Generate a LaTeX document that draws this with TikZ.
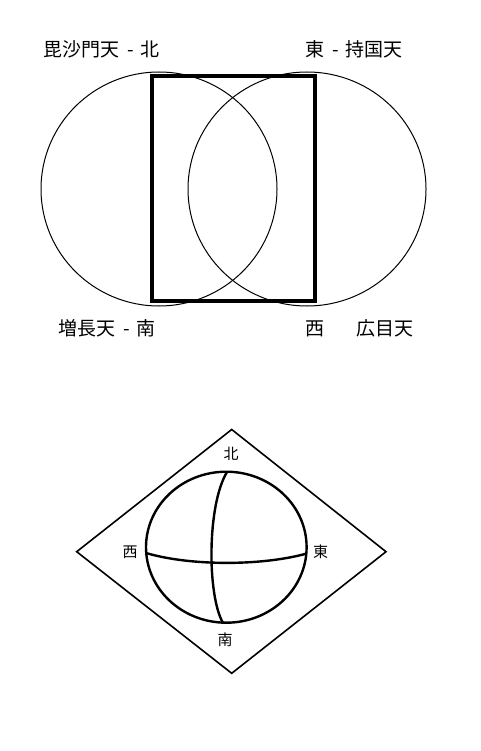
\documentclass[tikz,border=0pt]{standalone}
\usepackage{fontspec}
\newfontfamily\jp{Noto Sans CJK JP}
\usetikzlibrary{positioning,calc}
\newcommand{\sep}{\hspace*{8pt}-\hspace*{7pt}}

\begin{document}
\begin{tikzpicture}[x=1pt,y=-1pt,
        bigname/.style={anchor=west,inner sep=0pt,font=\jp\fontsize{19}{19}\selectfont},
        dirname/.style={inner sep=0pt,font=\jp\fontsize{15}{15}\selectfont}]
        \useasboundingbox (0,0) rectangle (480,751);
        % upper figure
        \draw[line width=1pt] (159,189) ellipse (118 and 117);
        \draw[line width=1pt] (307,189) ellipse (119 and 117);
        \draw[line width=4pt] (152,76.5) rectangle (314.5,300.5);
        \node[bigname] (bishamon) at (43,49) {毘沙門天\sep 北};
        \node[bigname] (jikoku) at (305,49) {東\sep 持国天};
        \node[bigname] (zocho) at (58,328) {増長天\sep 南};
        \node[bigname] (komoku) at (305,328) {西\hspace*{32pt}広目天};
        % lower figure
        \draw[line width=1.6pt] (231.7,429.5) -- (386,551.7) -- (231.7,673.3) -- (76.7,551.7) -- cycle;
        \draw[line width=2.4pt] (226.3,547.2) ellipse (80.3 and 75.5);
        \draw[line width=2.4pt] (146,553) .. controls (190,566) and (260,566) .. (305,554);
        \draw[line width=2.4pt] (227,472) .. controls (207,505) and (207,595) .. (223,623);
        \node[dirname] (kita) at (231,454) {北};
        \node[dirname] (nishi) at (130,552) {西};
        \node[dirname] (higashi) at (320.5,552) {東};
        \node[dirname] (minami) at (225,640) {南};
\end{tikzpicture}
\end{document}
